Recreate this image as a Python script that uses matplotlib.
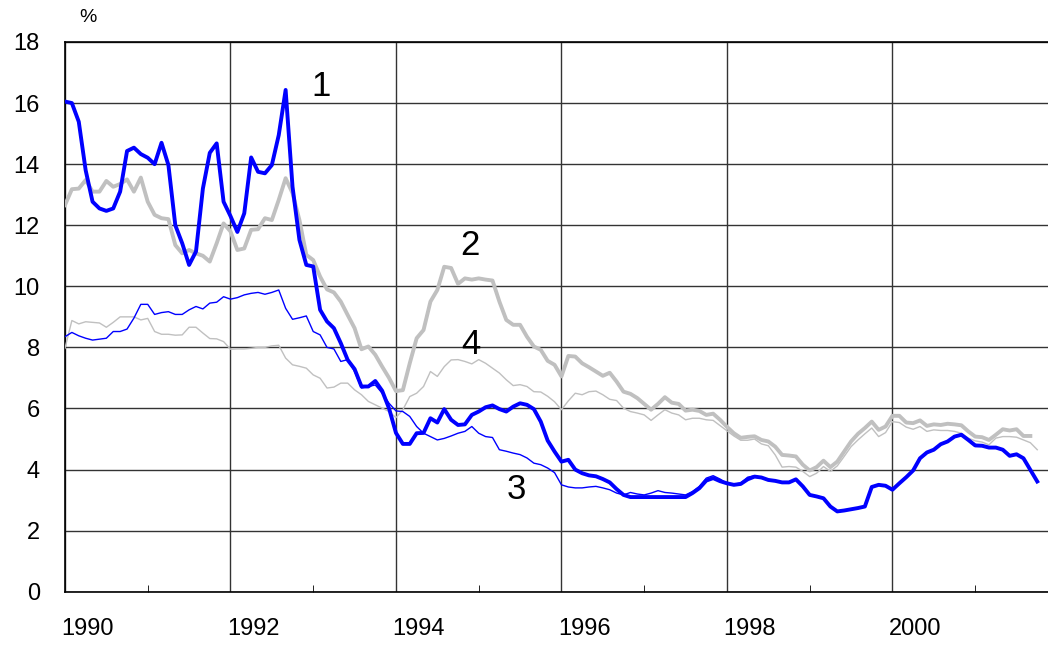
import numpy as np
import matplotlib
matplotlib.use("Agg")
import matplotlib.pyplot as plt
from matplotlib.transforms import ScaledTranslation

# ==========================================
# DATA (monthly, from Jan 1990, %)
# ==========================================

series1 = [16.05, 16.0, 15.39, 13.8, 12.77, 12.55, 12.47, 12.55, 13.1, 14.43, 14.54, 14.33,
           14.21, 14.0, 14.7, 13.97, 12.0, 11.41, 10.7, 11.14, 13.2, 14.37, 14.68, 12.77,
           12.3, 11.78, 12.39, 14.22, 13.75, 13.7, 13.97, 14.95, 16.43, 13.26, 11.52, 10.7,
           10.65, 9.23, 8.85, 8.63, 8.14, 7.59, 7.29, 6.72, 6.72, 6.9, 6.58, 6.0,
           5.2, 4.84, 4.84, 5.19, 5.2, 5.68, 5.54, 5.98, 5.63, 5.46, 5.48, 5.79,
           5.9, 6.04, 6.1, 5.98, 5.9, 6.06, 6.17, 6.12, 5.98, 5.57, 4.95, 4.59,
           4.26, 4.32, 4.0, 3.88, 3.81, 3.78, 3.69, 3.58, 3.36, 3.17, 3.1, 3.1,
           3.1, 3.1, 3.1, 3.1, 3.1, 3.1, 3.1, 3.23, 3.39, 3.64, 3.72, 3.62,
           3.55, 3.5, 3.53, 3.68, 3.77, 3.74, 3.66, 3.63, 3.58, 3.58, 3.68, 3.45,
           3.17, 3.12, 3.06, 2.79, 2.63, 2.66, 2.7, 2.74, 2.79, 3.43, 3.5, 3.47,
           3.34, 3.55, 3.75, 3.97, 4.37, 4.56, 4.65, 4.83, 4.92, 5.08, 5.14, 4.97,
           4.79, 4.78, 4.72, 4.72, 4.65, 4.45, 4.5, 4.37, 3.99, 3.61]

series2 = [12.66, 13.18, 13.2, 13.48, 13.1, 13.1, 13.45, 13.26, 13.35, 13.5, 13.1, 13.56,
           12.77, 12.34, 12.23, 12.2, 11.35, 11.08, 11.19, 11.08, 11.0, 10.81, 11.41, 12.06,
           11.8, 11.19, 11.24, 11.85, 11.87, 12.23, 12.17, 12.83, 13.54, 13.05, 12.17, 11.03,
           10.86, 10.32, 9.9, 9.8, 9.5, 9.06, 8.63, 7.94, 8.03, 7.76, 7.37, 7.0,
           6.57, 6.6, 7.48, 8.3, 8.57, 9.5, 9.88, 10.64, 10.6, 10.08, 10.26, 10.22,
           10.26, 10.22, 10.19, 9.5, 8.9, 8.74, 8.74, 8.35, 8.03, 7.92, 7.56, 7.43,
           7.05, 7.72, 7.7, 7.48, 7.35, 7.21, 7.07, 7.17, 6.88, 6.55, 6.48, 6.34,
           6.15, 5.96, 6.15, 6.37, 6.19, 6.15, 5.93, 5.96, 5.92, 5.79, 5.83, 5.63,
           5.4, 5.19, 5.04, 5.07, 5.09, 4.97, 4.92, 4.75, 4.48, 4.46, 4.43, 4.16,
           3.97, 4.08, 4.29, 4.08, 4.26, 4.59, 4.92, 5.17, 5.36, 5.57, 5.3, 5.41,
           5.76, 5.76, 5.54, 5.52, 5.61, 5.43, 5.48, 5.46, 5.5, 5.48, 5.45, 5.25,
           5.08, 5.06, 4.97, 5.14, 5.32, 5.28, 5.32, 5.1, 5.1]

series3 = [8.35, 8.49, 8.38, 8.3, 8.24, 8.27, 8.3, 8.52, 8.52, 8.6, 8.96, 9.41,
           9.41, 9.08, 9.14, 9.17, 9.08, 9.08, 9.23, 9.34, 9.26, 9.45, 9.48, 9.66,
           9.58, 9.63, 9.72, 9.77, 9.8, 9.74, 9.8, 9.88, 9.28, 8.92, 8.97, 9.03,
           8.52, 8.41, 8.0, 7.95, 7.54, 7.6, 7.21, 6.67, 6.72, 6.77, 6.5, 6.17,
           5.92, 5.9, 5.74, 5.41, 5.19, 5.08, 4.97, 5.02, 5.1, 5.19, 5.25, 5.41,
           5.19, 5.08, 5.05, 4.65, 4.6, 4.54, 4.49, 4.38, 4.21, 4.16, 4.05, 3.9,
           3.5, 3.43, 3.4, 3.4, 3.43, 3.45, 3.4, 3.34, 3.23, 3.17, 3.25, 3.2,
           3.17, 3.23, 3.31, 3.25, 3.23, 3.2, 3.17, 3.28, 3.45, 3.72, 3.8, 3.69,
           3.55, 3.52, 3.56, 3.75, 3.8, 3.72, 3.68, 3.62, 3.58, 3.6, 3.68, 3.46,
           3.18, 3.12, 3.07, 2.8, 2.64, 2.66, 2.7, 2.74, 2.8, 3.42, 3.5, 3.47,
           3.35, 3.55, 3.75, 3.97, 4.37, 4.56, 4.65, 4.83, 4.93, 5.1, 5.16, 5.0,
           4.82, 4.8, 4.74, 4.72, 4.65, 4.45, 4.5, 4.37, 3.99, 3.61]

series4 = [7.97, 8.88, 8.77, 8.84, 8.82, 8.8, 8.66, 8.82, 9.0, 9.0, 9.0, 8.9,
           8.95, 8.52, 8.43, 8.43, 8.4, 8.41, 8.66, 8.66, 8.47, 8.29, 8.28, 8.19,
           7.94, 7.95, 7.95, 7.97, 8.0, 8.0, 8.05, 8.07, 7.65, 7.43, 7.38, 7.32,
           7.1, 6.99, 6.67, 6.7, 6.83, 6.83, 6.61, 6.45, 6.23, 6.12, 6.01, 5.9,
           5.7, 5.96, 6.39, 6.5, 6.72, 7.21, 7.05, 7.37, 7.59, 7.6, 7.54, 7.46,
           7.6, 7.48, 7.32, 7.16, 6.94, 6.75, 6.78, 6.72, 6.55, 6.54, 6.4, 6.22,
           5.96, 6.25, 6.5, 6.45, 6.55, 6.57, 6.45, 6.3, 6.26, 6.01, 5.9, 5.85,
           5.79, 5.61, 5.79, 5.96, 5.85, 5.79, 5.63, 5.68, 5.68, 5.63, 5.61, 5.44,
           5.27, 5.1, 4.96, 4.96, 5.0, 4.84, 4.78, 4.48, 4.08, 4.1, 4.08, 3.94,
           3.77, 3.88, 4.1, 3.94, 4.12, 4.43, 4.75, 4.97, 5.17, 5.36, 5.08, 5.21,
           5.57, 5.54, 5.39, 5.32, 5.41, 5.25, 5.3, 5.28, 5.28, 5.25, 5.19, 5.03,
           4.94, 4.9, 4.81, 5.03, 5.08, 5.08, 5.06, 4.97, 4.88, 4.65]

series_labels = ["1", "2", "3", "4"]
label_pos = [(1993.1, 16.55), (1994.9, 11.35), (1995.45, 3.35), (1994.9, 8.1)]

year_ticks = [1990, 1992, 1994, 1996, 1998, 2000]

BLUE = "#0000FF"
GRAY = "#C0C0C0"


def months(vals):
    return 1990 + np.arange(len(vals)) / 12.0


# ==========================================
# PLOT
# ==========================================

plt.rcParams["font.family"] = ["Liberation Sans", "DejaVu Sans"]

fig = plt.figure(figsize=(10.48, 6.46), dpi=100)
ax = fig.add_axes([0.062, 0.084, 0.938, 0.851])

ax.plot(months(series4), series4, color=GRAY, lw=1.0, zorder=3)
ax.plot(months(series2), series2, color=GRAY, lw=2.8, zorder=4)
ax.plot(months(series3), series3, color=BLUE, lw=1.0, zorder=5)
ax.plot(months(series1), series1, color=BLUE, lw=2.8, zorder=6)

for lab, (xx, yy) in zip(series_labels, label_pos):
    ax.text(xx, yy, lab, fontsize=25, ha="center", va="center", zorder=7)

ax.set_xlim(1990, 2001.88)
ax.set_ylim(0, 18)
ax.set_yticks(np.arange(0, 19, 2))
ax.set_xticks(year_ticks)
ax.set_xticks(np.arange(1991, 2002, 2), minor=True)
ax.set_xticklabels([str(y) for y in year_ticks])

ax.grid(True, which="major", color="#333333", lw=1.0)
ax.set_axisbelow(True)

ax.tick_params(axis="both", which="both", direction="in", labelsize=17)
ax.tick_params(axis="x", which="major", length=0, pad=19)
ax.tick_params(axis="x", which="minor", length=5)
ax.tick_params(axis="y", length=0, pad=18)

offset = ScaledTranslation(0.23, 0, fig.dpi_scale_trans)
for lbl in ax.get_xticklabels():
    lbl.set_transform(lbl.get_transform() + offset)

for side in ["left", "bottom", "top"]:
    ax.spines[side].set_color("black")
    ax.spines[side].set_linewidth(1.2)
ax.spines["right"].set_visible(False)

fig.text(0.084, 0.973, "%", fontsize=14, ha="center", va="center")

fig.savefig("out.png", dpi=100)
